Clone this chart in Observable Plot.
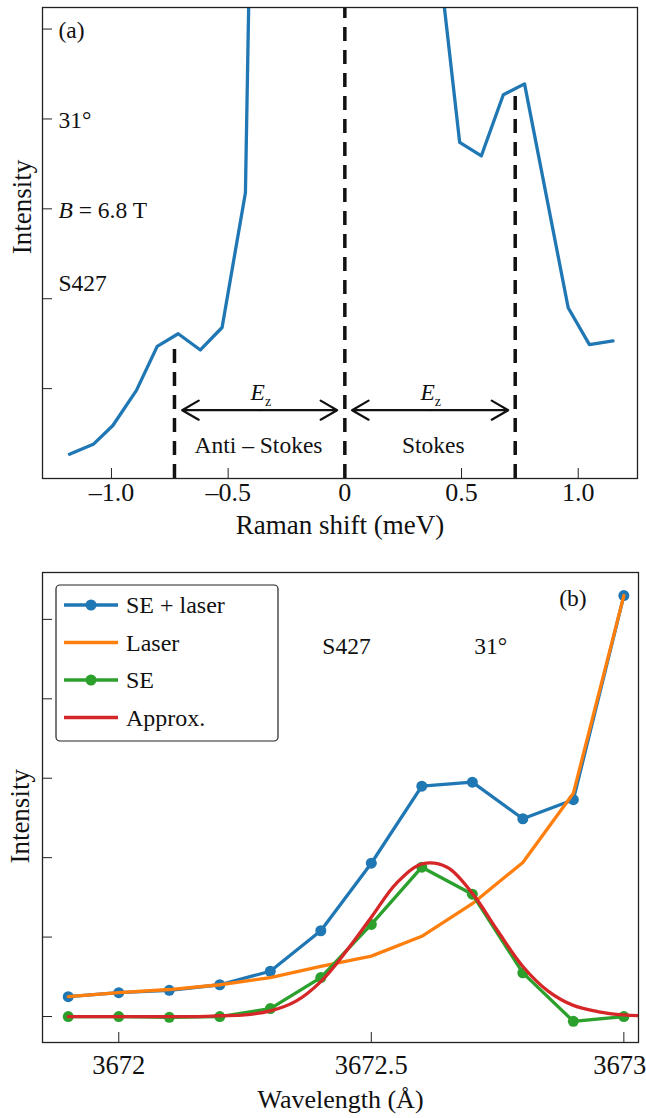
<!DOCTYPE html>
<html><head><meta charset="utf-8">
<script src="https://cdn.jsdelivr.net/npm/d3@7"></script>
<script src="https://cdn.jsdelivr.net/npm/@observablehq/plot@0.6"></script>
<style>
html,body{margin:0;padding:0;background:#fff;}
#chart svg{display:block;}
</style></head><body><div id="chart"></div>
<script>
// ---------- Panel (a) data ----------
const ramanShift = [-1.18, -1.078, -0.994, -0.893, -0.804, -0.714, -0.619, -0.526, -0.426, -0.333, -0.240, -0.146, -0.052, 0.042, 0.136, 0.230, 0.323, 0.400, 0.492, 0.585, 0.679, 0.770, 0.957, 1.048, 1.149];
const ramanIntensity = [0.27, 0.38, 0.59, 0.98, 1.47, 1.61, 1.43, 1.68, 3.18, 17.0, 40, 70, 95, 100, 75, 40, 15, 5.85, 3.74, 3.59, 4.27, 4.39, 1.90, 1.49, 1.53];
const ramanTicks = [-1.0, -0.5, 0, 0.5, 1.0];
const intensityTicksA = [1, 2, 3, 4, 5];
const zeemanEz = 0.73;
const dashX = [-zeemanEz, 0, zeemanEz];
const dashFrom = [1.50, 5.24, 4.35];
const annotAText = ["(a)", "31°", "B = 6.8 T", "S427"];
const annotAY = [4.98, 3.98, 2.98, 2.17];
const regionText = ["Anti – Stokes", "Stokes"];
const regionX = [-0.37, 0.379];

// ---------- Panel (b) data ----------
const wavelength = [3671.9, 3672.0, 3672.1, 3672.2, 3672.3, 3672.4, 3672.5, 3672.6, 3672.7, 3672.8, 3672.9, 3673.0];
const seLaser = [0.25, 0.30, 0.33, 0.40, 0.57, 1.08, 1.93, 2.90, 2.95, 2.49, 2.73, 5.30];
const laser   = [0.25, 0.30, 0.34, 0.40, 0.49, 0.63, 0.76, 1.01, 1.42, 1.94, 2.81, 5.30];
const se      = [0.00, 0.00, -0.01, 0.00, 0.10, 0.49, 1.16, 1.88, 1.54, 0.55, -0.06, 0.00];
const approxWavelength = [3671.9, 3672.0, 3672.1, 3672.15, 3672.2, 3672.25, 3672.3, 3672.35, 3672.4, 3672.45, 3672.5, 3672.55, 3672.6, 3672.65, 3672.7, 3672.75, 3672.8, 3672.85, 3672.9, 3672.95, 3673.0, 3673.03];
const approx = [0, 0, 0, 0, 0.01, 0.02, 0.07, 0.19, 0.44, 0.82, 1.25, 1.68, 1.92, 1.88, 1.55, 1.08, 0.63, 0.32, 0.14, 0.06, 0.02, 0.01];
const wavelengthTicks = [3672, 3672.5, 3673];
const intensityTicksB = [0, 1, 2, 3, 4, 5];
const annotBText = ["(b)", "S427", "31°"];
const annotBX = [3672.872, 3672.403, 3672.704];
const annotBY = [5.26, 4.66, 4.66];
const seriesNames = ["SE + laser", "Laser", "SE", "Approx."];
const seriesColors = ["#1f77b4", "#ff7f0e", "#2ca02c", "#d62728"];
const seriesMarkers = [true, false, true, false];

const FONT = "'Liberation Serif', 'Times New Roman', serif";
const LABEL_FS = 27, ANNOT_FS = 23.5, TICK_FS = 26;

// tables
const ramanData = ramanShift.map((x, i) => ({x, y: ramanIntensity[i]}));
const dashData = dashX.map((x, i) => ({x, y1: 0, y2: dashFrom[i]}));
const annotAData = annotAText.map((t, i) => ({t, y: annotAY[i]}));
const arrowY = 0.76;
const arrowData = [
  {x1: -0.365, x2: -0.697}, {x1: -0.365, x2: -0.033},
  {x1: 0.366, x2: 0.031}, {x1: 0.366, x2: 0.70}
];
const ezData = [{x: -0.36}, {x: 0.368}];
const regionData = regionText.map((t, i) => ({t, x: regionX[i]}));

const fmtA = d => d === 0 ? "0" : d.toFixed(1).replace("-", "–");

const xDomA = [-1.2955, 1.254];
const yDomA = [0, 5.24];

const plotA = Plot.plot({
  width: 646, height: 550,
  marginLeft: 42, marginRight: 9, marginTop: 7, marginBottom: 72,
  style: {fontFamily: FONT, fontSize: "24px", background: "white", color: "#111"},
  x: {domain: xDomA},
  y: {domain: yDomA},
  marks: [
    Plot.axisX(ramanTicks, {tickSize: -10, tickFormat: () => "", label: null, stroke: "#222"}),
    Plot.text(ramanTicks, {x: d => d, frameAnchor: "bottom", dy: 22, text: fmtA, fontSize: TICK_FS}),
    Plot.axisY(intensityTicksA, {tickSize: -10, tickFormat: () => "", label: null, stroke: "#222"}),
    Plot.line(ramanData, {x: "x", y: "y", stroke: "#1f77b4", strokeWidth: 3.3, clip: true}),
    Plot.ruleX(dashData, {x: "x", y1: "y1", y2: "y2", stroke: "#111", strokeWidth: 3.5, strokeDasharray: "14,9"}),
    Plot.arrow(arrowData, {x1: "x1", x2: "x2", y1: () => arrowY, y2: () => arrowY, stroke: "#111", strokeWidth: 2.2, headLength: 13, headAngle: 60}),
    Plot.text(ezData, {x: "x", y: () => 0.96, text: () => "E_z", fontSize: ANNOT_FS}),
    Plot.text(regionData, {x: "x", y: () => 0.37, text: "t", fontSize: ANNOT_FS}),
    Plot.text(annotAData, {x: () => -1.227, y: "y", text: "t", textAnchor: "start", fontSize: ANNOT_FS}),
    Plot.text(["Raman shift (meV)"], {frameAnchor: "bottom", dy: 55, fontSize: LABEL_FS}),
    Plot.text(["Intensity"], {x: () => xDomA[0], y: () => 3.02, dx: -20, rotate: -90, fontSize: LABEL_FS}),
    Plot.frame({stroke: "#222", strokeWidth: 1.3})
  ]
});

// Panel (b)
const blueData = wavelength.map((x, i) => ({x, y: seLaser[i]}));
const orangeData = wavelength.map((x, i) => ({x, y: laser[i]}));
const greenData = wavelength.map((x, i) => ({x, y: se[i]}));
const redData = approxWavelength.map((x, i) => ({x, y: approx[i]}));
const annotBData = annotBText.map((t, i) => ({t, x: annotBX[i], y: annotBY[i]}));
const xDomB = [3671.849, 3673.029];
const yDomB = [-0.327, 5.59];

const plotB = Plot.plot({
  width: 646, height: 568,
  marginLeft: 42, marginRight: 8, marginTop: 22, marginBottom: 76,
  style: {fontFamily: FONT, fontSize: "24px", background: "white", color: "#111"},
  x: {domain: xDomB},
  y: {domain: yDomB},
  marks: [
    Plot.axisX(wavelengthTicks, {tickSize: -10, tickFormat: () => "", label: null, stroke: "#222"}),
    Plot.text(wavelengthTicks, {x: d => d, frameAnchor: "bottom", dy: 31, text: d => String(d), fontSize: 26.5}),
    Plot.axisY(intensityTicksB, {tickSize: -10, tickFormat: () => "", label: null, stroke: "#222"}),
    Plot.line(blueData, {x: "x", y: "y", stroke: seriesColors[0], strokeWidth: 3.3}),
    Plot.dot(blueData, {x: "x", y: "y", fill: seriesColors[0], r: 5.5}),
    Plot.line(orangeData, {x: "x", y: "y", stroke: seriesColors[1], strokeWidth: 3.3}),
    Plot.line(greenData, {x: "x", y: "y", stroke: seriesColors[2], strokeWidth: 3.3}),
    Plot.dot(greenData, {x: "x", y: "y", fill: seriesColors[2], r: 5.5}),
    Plot.line(redData, {x: "x", y: "y", stroke: seriesColors[3], strokeWidth: 3.3, curve: "catmull-rom", clip: true}),
    Plot.text(annotBData, {x: "x", y: "y", text: "t", textAnchor: "start", fontSize: ANNOT_FS}),
    Plot.text(["Wavelength (Å)"], {frameAnchor: "bottom", dy: 65, fontSize: 26}),
    Plot.text(["Intensity"], {x: () => xDomB[0], y: () => 2.52, dx: -22, rotate: -90, fontSize: LABEL_FS}),
    Plot.frame({stroke: "#222", strokeWidth: 1.3})
  ]
});

// rich text post-processing
function richify(svg) {
  d3.select(svg).selectAll("text").each(function() {
    const t = d3.select(this);
    const s = this.textContent;
    if (s === "E_z") {
      t.text("");
      t.append("tspan").attr("font-style", "italic").text("E");
      t.append("tspan").attr("font-size", 14).attr("dy", 6).text("z");
    } else if (s === "B = 6.8 T") {
      t.text("");
      t.append("tspan").attr("font-style", "italic").text("B");
      t.append("tspan").text(" = 6.8 T");
    } else if (s === "3673") {
      t.attr("dx", -4);
    }
  });
}
richify(plotA);
richify(plotB);

// legend inside panel (b)
const lg = d3.select(plotB).append("g").attr("font-family", FONT).attr("font-size", 24).attr("text-anchor", "start");
lg.append("rect").attr("x", 56).attr("y", 35).attr("width", 222).attr("height", 156)
  .attr("rx", 4).attr("fill", "white").attr("stroke", "#222").attr("stroke-width", 1.2);
seriesNames.forEach((name, i) => {
  const yy = 55 + i * 37.5;
  lg.append("line").attr("x1", 64).attr("x2", 118).attr("y1", yy).attr("y2", yy)
    .attr("stroke", seriesColors[i]).attr("stroke-width", 3.3);
  if (seriesMarkers[i]) lg.append("circle").attr("cx", 91).attr("cy", yy).attr("r", 5.5).attr("fill", seriesColors[i]);
  lg.append("text").attr("x", 126).attr("y", yy).attr("dy", "0.35em").attr("fill", "#111").attr("text-anchor", "start").text(name);
});

document.getElementById("chart").append(plotA, plotB);
</script></body></html>
